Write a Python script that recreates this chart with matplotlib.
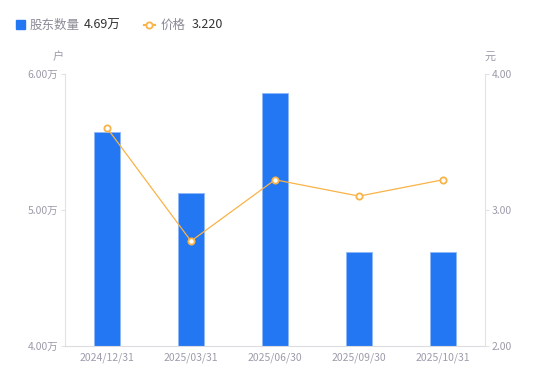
import matplotlib.pyplot as plt
import numpy as np

plt.rcParams['font.family'] = ['Noto Sans CJK SC', 'DejaVu Sans']

dates = ['2024/12/31', '2025/03/31', '2025/06/30', '2025/09/30', '2025/10/31']
holders = [5.57, 5.12, 5.86, 4.69, 4.69]   # 万户
price = [3.60, 2.77, 3.22, 3.10, 3.22]      # 元
left_ticks = [4.0, 5.0, 6.0]
right_ticks = [2.0, 3.0, 4.0]

bar_color = '#2477F3'
line_color = '#F9B347'
label_color = '#9C9CAB'
axis_color = '#E3E3E6'

fig = plt.figure(figsize=(5.5, 3.81), dpi=100)
ax = fig.add_axes([65 / 550, 35 / 381, 420 / 550, 272.5 / 381])
x = np.arange(len(dates))
ax.bar(x, holders, width=0.3, color=bar_color, edgecolor='#8FB8F8', linewidth=0.6, zorder=2)
ax.set_xlim(-0.5, len(dates) - 0.5)
ax.set_ylim(left_ticks[0], left_ticks[-1])
ax.set_yticks(left_ticks)
ax.set_yticklabels(['%.2f万' % v for v in left_ticks])
ax.set_xticks(x)
ax.set_xticklabels(dates)

ax2 = ax.twinx()
ax2.plot(x, price, color=line_color, lw=0.9, marker='o', ms=4.5, mfc='white',
         mec=line_color, mew=1.3, zorder=3)
ax2.set_ylim(right_ticks[0], right_ticks[-1])
ax2.set_yticks(right_ticks)
ax2.set_yticklabels(['%.2f' % v for v in right_ticks])

for a in (ax, ax2):
    for s in a.spines.values():
        s.set_visible(False)
    a.tick_params(labelsize=7.5, colors=label_color, length=3, width=0.8)
    a.tick_params(axis='y', color=axis_color, pad=2)
ax.tick_params(axis='x', length=0, pad=5)
ax.spines['left'].set_visible(True)
ax.spines['left'].set_color(axis_color)
ax.spines['bottom'].set_visible(True)
ax.spines['bottom'].set_color('#DCDCE0')
ax2.spines['right'].set_visible(True)
ax2.spines['right'].set_color(axis_color)

fig.text(58 / 550, 1 - 57 / 381, '户', fontsize=8, color=label_color, ha='center', va='center')
fig.text(490 / 550, 1 - 57 / 381, '元', fontsize=8, color=label_color, ha='center', va='center')

# legend
ly = 1 - 25 / 381
fig.patches.append(plt.Rectangle((16 / 550, 1 - 29 / 381), 9 / 550, 9 / 381,
                                 transform=fig.transFigure, color=bar_color))
fig.text(30 / 550, ly, '股东数量', fontsize=9, color='#8A8A96', va='center')
fig.text(84 / 550, ly, '%.2f万' % holders[-1], fontsize=9, color='#333333', va='center')
fig.lines.append(plt.Line2D([144 / 550, 155 / 550], [ly, ly], transform=fig.transFigure,
                            color=line_color, lw=1.5))
fig.lines.append(plt.Line2D([149.5 / 550], [ly], transform=fig.transFigure, marker='o',
                            ms=4.5, mfc='white', mec=line_color, mew=1.3))
fig.text(161 / 550, ly, '价格', fontsize=9, color='#8A8A96', va='center')
fig.text(192 / 550, ly, '%.3f' % price[-1], fontsize=9, color='#333333', va='center')

fig.savefig('out.png', dpi=100)
